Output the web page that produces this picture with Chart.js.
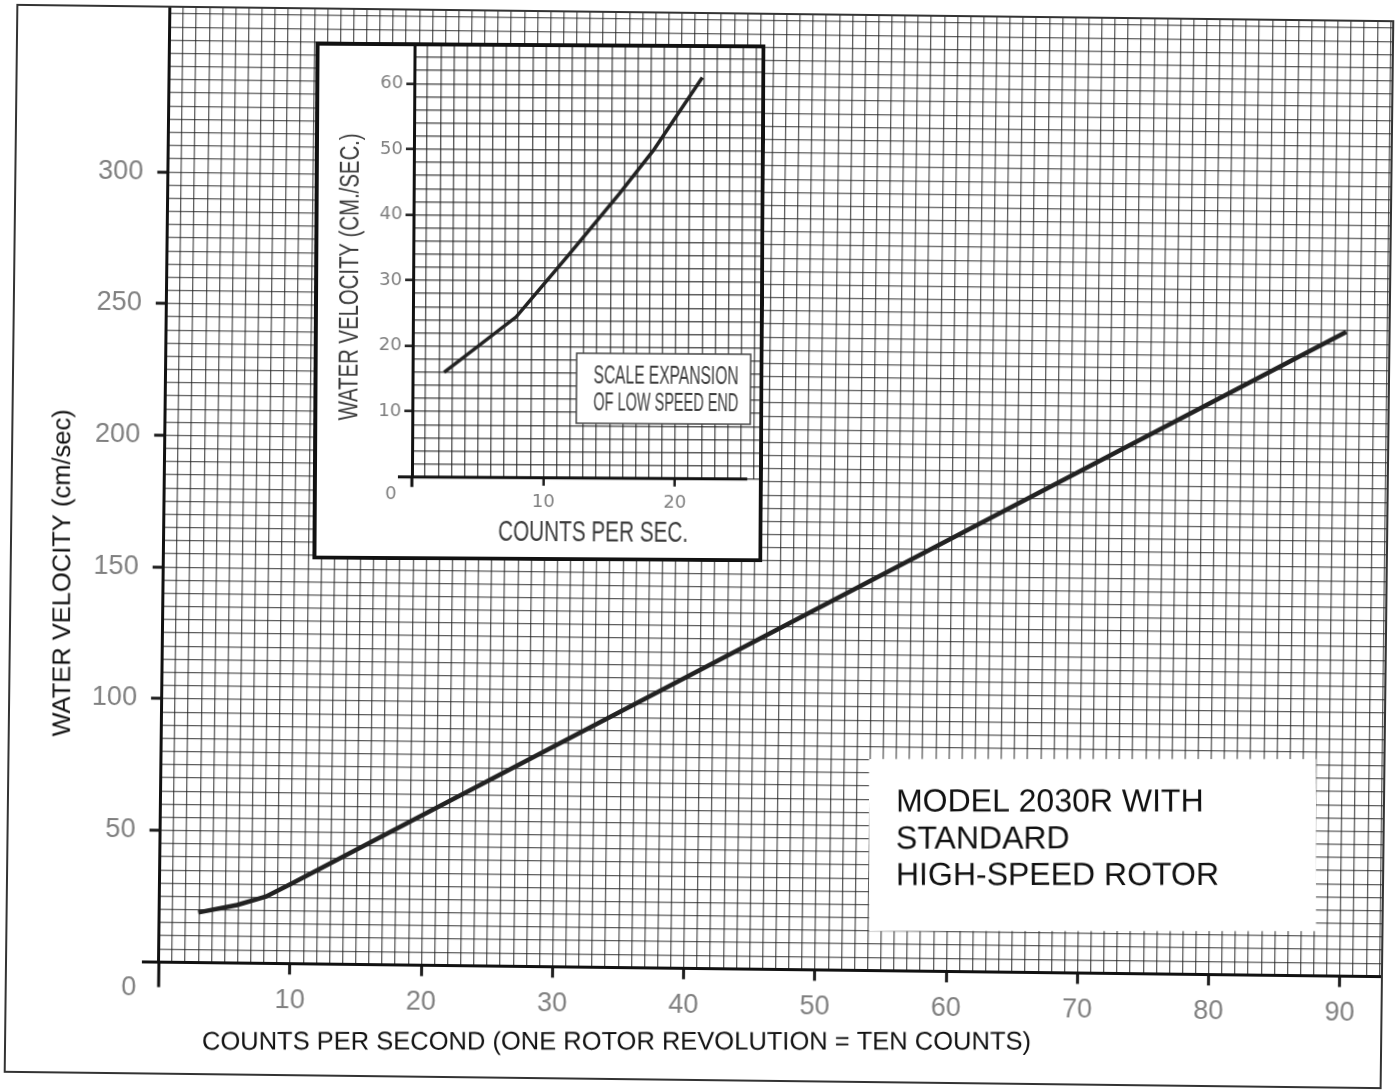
<!DOCTYPE html>
<html>
<head>
<meta charset="utf-8">
<script src="https://cdn.jsdelivr.net/npm/chart.js@4.4.1/dist/chart.umd.min.js"></script>
<style>
  html, body { margin: 0; padding: 0; background: #fff; overflow: hidden; }
  #wrap { position: relative; width: 1398px; height: 1091px; }
  /* the scan is a little crooked, the pasted inset a bit less */
  #main { position: absolute; left: 0; top: 0; transform: rotate(0.68deg); }
  #inset { position: absolute; left: 313.75px; top: 42.75px; transform: rotate(0.35deg); }
</style>
</head>
<body>
<div id="wrap">
  <canvas id="main" width="1398" height="1091"></canvas>
  <canvas id="inset" width="450" height="518"></canvas>
</div>
<script>
// main calibration curve (counts per second -> cm/sec)
var mainCounts = [2.95, 5.9, 8.1, 10.2, 89.9];
var mainVelocity = [19.0, 22.0, 25.3, 30.8, 244.5];

// inset, low speed end expanded
var insetCounts = [2.4, 7.85, 11.9, 15.65, 18.2, 21.9];
var insetVelocity = [16.0, 24.5, 34.2, 43.4, 50.0, 61.2];

// labelled ticks
var mainXTicks = [10, 20, 30, 40, 50, 60, 70, 80, 90];
var mainYTicks = [50, 100, 150, 200, 250, 300];
var insetXTicks = [10, 20];
var insetYTicks = [10, 20, 30, 40, 50, 60];

var SANS = '"Liberation Sans", Arial, sans-serif';
var GRID = 'rgba(30,30,30,0.72)';
var INK = '#1e1e1e';
var TILT = 0.68 * Math.PI / 180;

function points(xs, ys) {
  return xs.map(function(x, i) { return {x: x, y: ys[i]}; });
}

function markColor(list) {
  return function(c) { return list.indexOf(c.tick.value) >= 0 ? INK : 'rgba(0,0,0,0)'; };
}

function tickText(list) {
  return function(v) { return list.indexOf(v) >= 0 ? String(v) : ''; };
}

// fixed box size, no extra room for half labels at the ends
function fixWidth(w) {
  return function(s) { s.width = w; s.paddingTop = 0; s.paddingBottom = 0; };
}
function fixHeight(h) {
  return function(s) { s.height = h; s.paddingLeft = 0; s.paddingRight = 0; };
}

var whiteBack = {
  id: 'whiteBack',
  beforeDraw: function(chart) {
    var ctx = chart.ctx;
    ctx.save();
    ctx.fillStyle = '#fff';
    ctx.fillRect(0, 0, chart.width, chart.height);
    ctx.restore();
  }
};

var mainExtras = {
  id: 'mainExtras',
  afterDraw: function(chart) {
    var ctx = chart.ctx;
    var x0 = chart.scales.x.getPixelForValue(0);
    var y0 = chart.scales.y.getPixelForValue(0);
    ctx.save();
    // sheet border
    ctx.strokeStyle = '#333';
    ctx.lineWidth = 2;
    ctx.strokeRect(11, 13, 1376, 1067);
    // axes overshoot the origin
    ctx.strokeStyle = '#111';
    ctx.lineWidth = 3;
    ctx.beginPath();
    ctx.moveTo(x0 - 17, y0); ctx.lineTo(x0, y0);
    ctx.moveTo(x0, y0); ctx.lineTo(x0, y0 + 25);
    ctx.stroke();
    ctx.fillStyle = '#808080';
    ctx.font = '27px ' + SANS;
    ctx.textAlign = 'center';
    ctx.textBaseline = 'middle';
    ctx.fillText('0', x0 - 30, y0 + 26);

    // typed labels sit straight on the page
    ctx.translate(chart.width / 2, chart.height / 2);
    ctx.rotate(-TILT);
    ctx.translate(-chart.width / 2, -chart.height / 2);

    ctx.fillStyle = '#fff';
    ctx.fillRect(869, 759, 447, 172);
    ctx.fillStyle = '#111';
    ctx.textAlign = 'left';
    ctx.textBaseline = 'alphabetic';
    ctx.font = '32px ' + SANS;
    ctx.fillText('MODEL 2030R WITH', 896, 811.5);
    ctx.fillText('STANDARD', 896, 848.5);
    ctx.fillText('HIGH-SPEED ROTOR', 896, 885);

    ctx.font = '25.5px ' + SANS;
    ctx.textAlign = 'center';
    ctx.textBaseline = 'middle';
    ctx.fillText('COUNTS PER SECOND (ONE ROTOR REVOLUTION = TEN COUNTS)', 616.5, 1042.5);
    ctx.save();
    ctx.translate(63, 573);
    ctx.rotate(-Math.PI / 2);
    ctx.fillText('WATER VELOCITY (cm/sec)', 0, 0);
    ctx.restore();
    ctx.restore();
  }
};

var insetExtras = {
  id: 'insetExtras',
  afterDraw: function(chart) {
    var ctx = chart.ctx;
    var xs = chart.scales.x, ys = chart.scales.y;
    var x0 = xs.getPixelForValue(0), y0 = ys.getPixelForValue(0);
    ctx.save();
    // x axis stops short of the frame
    ctx.strokeStyle = '#111';
    ctx.lineWidth = 3;
    ctx.beginPath();
    ctx.moveTo(x0 - 14, y0); ctx.lineTo(xs.getPixelForValue(25.5), y0);
    ctx.moveTo(x0, y0); ctx.lineTo(x0, y0 + 10);
    ctx.stroke();
    // frame
    ctx.lineWidth = 4;
    ctx.strokeRect(2, 2, 446, 514);

    ctx.fillStyle = '#808080';
    ctx.font = '18px "DejaVu Sans", sans-serif';
    ctx.textAlign = 'center';
    ctx.textBaseline = 'middle';
    ctx.fillText('0', x0 - 21, y0 + 18);

    // note box
    ctx.fillStyle = '#fff';
    ctx.fillRect(263, 310, 174, 70);
    ctx.strokeStyle = '#444';
    ctx.lineWidth = 1.5;
    ctx.strokeRect(263, 310, 174, 70);

    ctx.fillStyle = '#3c3c3c';
    ctx.textAlign = 'left';
    ctx.textBaseline = 'alphabetic';
    ctx.font = '25px ' + SANS;
    ctx.fillText('SCALE EXPANSION', 280, 340, 145);
    ctx.fillText('OF LOW SPEED END', 280, 367, 145);

    ctx.font = '30px ' + SANS;
    ctx.textAlign = 'center';
    ctx.fillText('COUNTS PER SEC.', 280.5, 497.5, 190);
    ctx.save();
    ctx.translate(36, 235);
    ctx.rotate(-Math.PI / 2);
    ctx.textBaseline = 'middle';
    ctx.font = '28px ' + SANS;
    ctx.fillText('WATER VELOCITY (CM./SEC.)', 0, 0, 287);
    ctx.restore();
    ctx.restore();
  }
};

new Chart(document.getElementById('main'), {
  type: 'line',
  data: {
    datasets: [{
      data: points(mainCounts, mainVelocity),
      borderColor: '#222',
      borderWidth: 4.5,
      pointRadius: 0,
      tension: 0,
      fill: false
    }]
  },
  options: {
    responsive: false,
    animation: false,
    events: [],
    layout: { padding: { left: 0, top: 13, right: 11, bottom: 0 } },
    plugins: { legend: { display: false }, tooltip: { enabled: false } },
    scales: {
      x: {
        type: 'linear', min: 0, max: 93.2,
        afterFit: fixHeight(122.6),
        grid: { color: GRID, lineWidth: 1.3, tickLength: 11, tickWidth: 3, tickColor: markColor(mainXTicks) },
        border: { display: true, color: '#111', width: 3 },
        ticks: {
          stepSize: 1, autoSkip: false, maxRotation: 0, maxTicksLimit: 1000, includeBounds: false,
          padding: 10, color: '#808080', font: { family: SANS, size: 27 },
          callback: tickText(mainXTicks)
        }
      },
      y: {
        type: 'linear', min: 0, max: 362.7,
        afterFit: fixWidth(163.9),
        grid: { color: GRID, lineWidth: 1.3, tickLength: 11, tickWidth: 3, tickColor: markColor(mainYTicks) },
        border: { display: true, color: '#111', width: 3 },
        ticks: {
          stepSize: 5, autoSkip: false, maxTicksLimit: 1000, includeBounds: false,
          padding: 14, color: '#808080', font: { family: SANS, size: 27 },
          callback: tickText(mainYTicks)
        }
      }
    }
  },
  plugins: [whiteBack, mainExtras]
});

new Chart(document.getElementById('inset'), {
  type: 'line',
  data: {
    datasets: [{
      data: points(insetCounts, insetVelocity),
      borderColor: '#222',
      borderWidth: 3.5,
      pointRadius: 0,
      tension: 0,
      fill: false
    }]
  },
  options: {
    responsive: false,
    animation: false,
    events: [],
    layout: { padding: { left: 0, top: 4, right: 4, bottom: 0 } },
    plugins: { legend: { display: false }, tooltip: { enabled: false } },
    scales: {
      x: {
        type: 'linear', min: 0, max: 26.39,
        afterFit: fixHeight(83.3),
        grid: { color: GRID, lineWidth: 1.4, tickLength: 8, tickWidth: 2.5, tickColor: markColor(insetXTicks) },
        border: { display: false },
        ticks: {
          stepSize: 1, autoSkip: false, maxRotation: 0, maxTicksLimit: 1000, includeBounds: false,
          padding: 6, color: '#808080', font: { family: '"DejaVu Sans", sans-serif', size: 18 },
          callback: tickText(insetXTicks)
        }
      },
      y: {
        type: 'linear', min: 0, max: 65.69,
        afterFit: fixWidth(99),
        grid: { color: GRID, lineWidth: 1.4, tickLength: 8, tickWidth: 2.5, tickColor: markColor(insetYTicks) },
        border: { display: true, color: '#111', width: 3 },
        ticks: {
          stepSize: 2, autoSkip: false, maxTicksLimit: 1000, includeBounds: false,
          padding: 3, color: '#808080', font: { family: '"DejaVu Sans", sans-serif', size: 18 },
          callback: tickText(insetYTicks)
        }
      }
    }
  },
  plugins: [whiteBack, insetExtras]
});
</script>
</body>
</html>
